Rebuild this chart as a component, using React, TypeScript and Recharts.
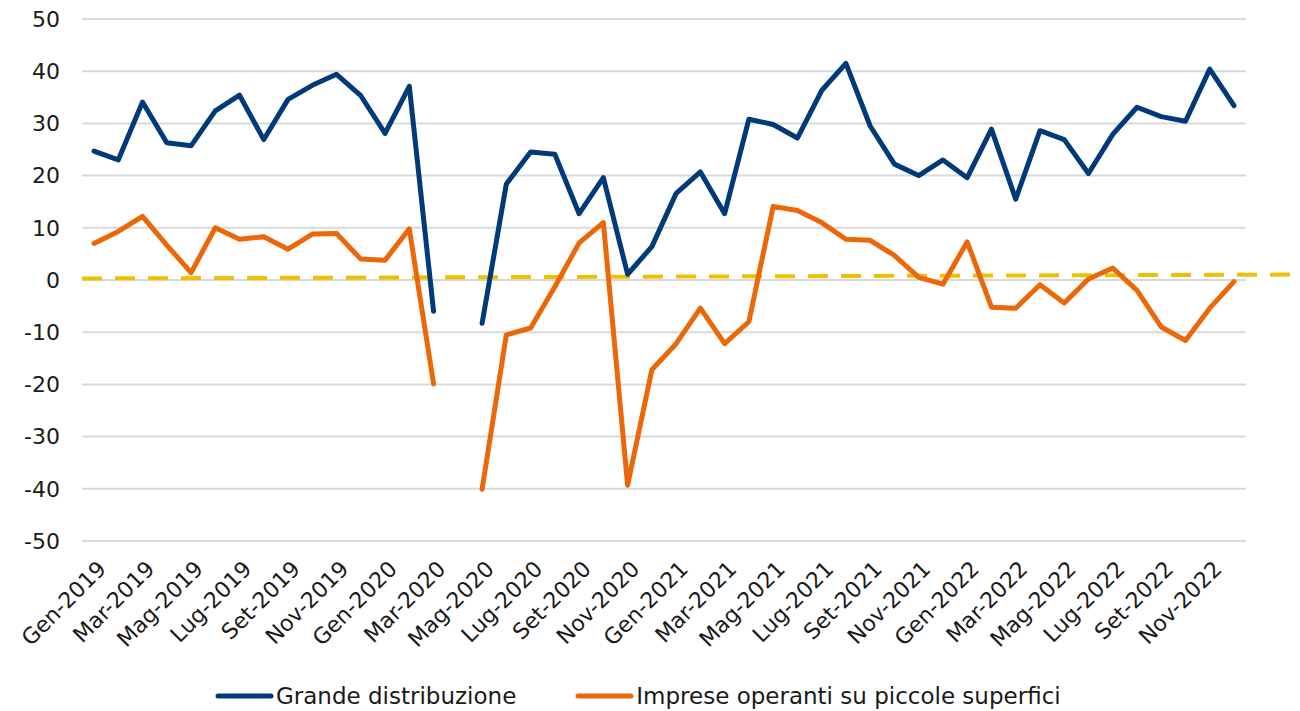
import React from 'react';
import { LineChart, Line, XAxis, YAxis, CartesianGrid, Legend, ReferenceLine } from 'recharts';

const categories = [
  'Gen-2019','Feb-2019','Mar-2019','Apr-2019','Mag-2019','Giu-2019','Lug-2019','Ago-2019','Set-2019','Ott-2019','Nov-2019','Dic-2019',
  'Gen-2020','Feb-2020','Mar-2020','Apr-2020','Mag-2020','Giu-2020','Lug-2020','Ago-2020','Set-2020','Ott-2020','Nov-2020','Dic-2020',
  'Gen-2021','Feb-2021','Mar-2021','Apr-2021','Mag-2021','Giu-2021','Lug-2021','Ago-2021','Set-2021','Ott-2021','Nov-2021','Dic-2021',
  'Gen-2022','Feb-2022','Mar-2022','Apr-2022','Mag-2022','Giu-2022','Lug-2022','Ago-2022','Set-2022','Ott-2022','Nov-2022','Dic-2022',
];

const grandeDistribuzione: (number | null)[] = [
  24.7, 23.0, 34.1, 26.3, 25.7, 32.4, 35.4, 26.9, 34.6, 37.3, 39.4, 35.3,
  28.1, 37.1, -6.0, null, -8.3, 18.4, 24.5, 24.1, 12.7, 19.6, 1.1, 6.4,
  16.6, 20.7, 12.7, 30.8, 29.8, 27.2, 36.3, 41.5, 29.5, 22.2, 20.0, 23.0,
  19.6, 28.9, 15.5, 28.6, 26.9, 20.4, 27.9, 33.1, 31.3, 30.4, 40.4, 33.4,
];

const piccoleSuperfici: (number | null)[] = [
  7.0, 9.3, 12.2, 6.7, 1.4, 10.0, 7.8, 8.3, 5.9, 8.8, 8.9, 4.0,
  3.8, 9.8, -19.9, null, -40.1, -10.5, -9.2, -1.3, 7.1, 11.0, -39.3, -17.2,
  -12.2, -5.4, -12.2, -8.0, 14.1, 13.3, 11.0, 7.8, 7.6, 4.7, 0.5, -0.8,
  7.3, -5.2, -5.4, -0.9, -4.4, 0.2, 2.3, -2.0, -9.0, -11.6, -5.4, -0.3,
];

// trend line endpoints (value at first and last category)
const trendEnds = [0.3, 1.0];

const yTicks = [-50, -40, -30, -20, -10, 0, 10, 20, 30, 40, 50];

const seriesNames = ['Grande distribuzione', 'Imprese operanti su piccole superfici'];
const BLUE = '#003A78';
const ORANGE = '#EC6707';
const GOLD = '#EEC000';
const FONT = '"DejaVu Sans", sans-serif';

const data = categories.map((c, i) => ({
  cat: c,
  grande: grandeDistribuzione[i],
  piccole: piccoleSuperfici[i],
}));

const XTick = (props: any) => {
  const { x, y, payload } = props;
  const ax = x + 2;
  const ay = y + 10;
  return (
    <text
      x={ax}
      y={ay}
      transform={`rotate(-45, ${ax}, ${ay})`}
      textAnchor="end"
      dominantBaseline="hanging"
      fontSize={22}
      fontFamily={FONT}
      fill="#1a1a1a"
    >
      {payload.value}
    </text>
  );
};

const TrendShape = (props: any) => {
  const { x1, y1, x2, y2 } = props;
  if ([x1, y1, x2, y2].some((v) => typeof v !== 'number' || isNaN(v))) return null;
  const slope = (y2 - y1) / (x2 - x1);
  const xl = x1 - 12;
  const xr = 1300;
  return (
    <line
      x1={xl}
      y1={y1 + slope * (xl - x1)}
      x2={xr}
      y2={y1 + slope * (xr - x1)}
      stroke={GOLD}
      strokeWidth={4}
      strokeDasharray="20 13"
    />
  );
};

const LegendContent = () => (
  <div
    style={{
      display: 'flex',
      justifyContent: 'flex-start',
      alignItems: 'center',
      fontFamily: FONT,
      fontSize: 23,
      color: '#1a1a1a',
      paddingLeft: 214,
      marginTop: 10,
      whiteSpace: 'nowrap',
    }}
  >
    {[BLUE, ORANGE].map((col, i) => (
      <div key={i} style={{ display: 'flex', alignItems: 'center', marginRight: i === 0 ? 58 : 0 }}>
        <svg width={60} height={10} style={{ marginRight: 2 }}>
          <line x1={4} y1={5} x2={57} y2={5} stroke={col} strokeWidth={5} strokeLinecap="round" />
        </svg>
        <span>{seriesNames[i]}</span>
      </div>
    ))}
  </div>
);

export default function App() {
  return (
    <div style={{ position: 'fixed', left: 0, top: 0, width: 1300, height: 711, background: '#fff' }}>
      <LineChart width={1300} height={711} data={data} margin={{ top: 19, right: 54, left: 0, bottom: 0 }}>
        <CartesianGrid vertical={false} stroke="#D9D9D9" strokeWidth={2} />
        <XAxis
          dataKey="cat"
          interval={1}
          axisLine={false}
          tickLine={false}
          tick={<XTick />}
          height={132}
          padding={{ left: 12, right: 12 }}
        />
        <YAxis
          domain={[-50, 50]}
          ticks={yTicks}
          axisLine={false}
          tickLine={false}
          tickSize={0}
          tickMargin={22}
          width={82}
          tick={{ fontSize: 22, fontFamily: FONT, fill: '#1a1a1a' }}
        />
        <ReferenceLine
          segment={[
            { x: categories[0], y: trendEnds[0] },
            { x: categories[categories.length - 1], y: trendEnds[1] },
          ]}
          shape={<TrendShape />}
        />
        <Line
          type="linear"
          dataKey="grande"
          name={seriesNames[0]}
          stroke={BLUE}
          strokeWidth={5}
          dot={false}
          activeDot={false}
          strokeLinejoin="round"
          strokeLinecap="round"
          isAnimationActive={false}
        />
        <Line
          type="linear"
          dataKey="piccole"
          name={seriesNames[1]}
          stroke={ORANGE}
          strokeWidth={5}
          dot={false}
          activeDot={false}
          strokeLinejoin="round"
          strokeLinecap="round"
          isAnimationActive={false}
        />
        <Legend
          verticalAlign="bottom"
          height={38}
          wrapperStyle={{ left: 0, width: 1300 }}
          content={<LegendContent />}
        />
      </LineChart>
    </div>
  );
}
